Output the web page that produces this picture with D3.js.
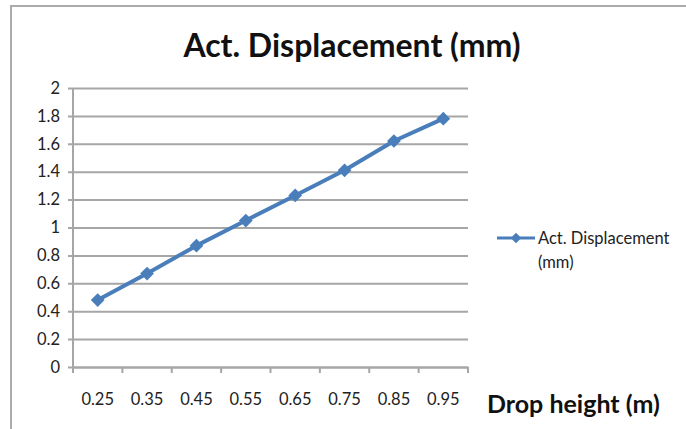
<!DOCTYPE html>
<html>
<head>
<meta charset="utf-8">
<script src="https://cdn.jsdelivr.net/npm/d3@7"></script>
<style>
  html, body { margin: 0; padding: 0; background: #fff; }
  svg { display: block; }
  text { font-family: Lato, "Open Sans", "Liberation Sans", sans-serif; }
</style>
</head>
<body>
<svg id="chart" width="686" height="429"></svg>
<script>
// Drop height categories (m) and measured displacement (mm)
const dropHeights = ["0.25", "0.35", "0.45", "0.55", "0.65", "0.75", "0.85", "0.95"];
const displacement = [0.48, 0.67, 0.87, 1.05, 1.23, 1.41, 1.62, 1.78];
const yTicks = [0, 0.2, 0.4, 0.6, 0.8, 1, 1.2, 1.4, 1.6, 1.8, 2];
const seriesName = "Act. Displacement (mm)";
const chartTitle = "Act. Displacement (mm)";
const xTitle = "Drop height (m)";

const svg = d3.select("#chart");
const W = 686, H = 429;
const plot = { left: 73, right: 468, top: 88, bottom: 367 };
const blue = "#4A7EBB";
const grid = "#A6A6A6";
const labelSize = 16.5;

// Outer chart frame
svg.append("rect")
  .attr("x", 11).attr("y", 6)
  .attr("width", W + 10).attr("height", H + 10)
  .attr("fill", "#fff")
  .attr("stroke", "#ABABAB").attr("stroke-width", 2);

const x = d3.scaleBand().domain(dropHeights).range([plot.left, plot.right]);
const y = d3.scaleLinear().domain([0, 2]).range([plot.bottom, plot.top]);

// Horizontal gridlines with left tick stubs
const yAxis = d3.axisLeft(y).tickValues(yTicks).tickSize(plot.right - plot.left + 5)
  .tickFormat(d => d3.format("~g")(d)).tickPadding(8);
const gy = svg.append("g").attr("transform", `translate(${plot.right},0)`).call(yAxis);
gy.select(".domain").remove();
gy.selectAll(".tick line").attr("stroke", grid).attr("stroke-width", 2);
gy.selectAll(".tick text").attr("fill", "#222").attr("font-size", labelSize);

// Vertical value axis line
svg.append("line")
  .attr("x1", plot.left).attr("x2", plot.left)
  .attr("y1", plot.top).attr("y2", plot.bottom + 5)
  .attr("stroke", grid).attr("stroke-width", 2);

// Category axis: tick marks sit between categories
const xAxis = d3.axisBottom(x).tickSize(0).tickPadding(26);
const gx = svg.append("g").attr("transform", `translate(0,${plot.bottom})`).call(xAxis);
gx.select(".domain").attr("stroke", grid).attr("stroke-width", 2);
gx.selectAll(".tick text").attr("fill", "#222").attr("font-size", labelSize);
const boundaries = dropHeights.map(d => x(d)).concat([x(dropHeights[dropHeights.length - 1]) + x.bandwidth()]);
svg.append("g").selectAll("line").data(boundaries).join("line")
  .attr("x1", d => d).attr("x2", d => d)
  .attr("y1", plot.bottom).attr("y2", plot.bottom + 6)
  .attr("stroke", grid).attr("stroke-width", 2);

// Data series
const cx = d => x(d) + x.bandwidth() / 2;
const line = d3.line().x((d, i) => cx(dropHeights[i])).y(d => y(d));
svg.append("path").datum(displacement)
  .attr("d", line).attr("fill", "none")
  .attr("stroke", blue).attr("stroke-width", 4).attr("stroke-linejoin", "round");

const diamond = d3.symbol().type(d3.symbolDiamond2).size(120);
svg.append("g").selectAll("path").data(displacement).join("path")
  .attr("d", diamond)
  .attr("transform", (d, i) => `translate(${cx(dropHeights[i])},${y(d)})`)
  .attr("fill", blue);

// Chart title
svg.append("text")
  .attr("x", 352).attr("y", 57)
  .attr("text-anchor", "middle")
  .attr("font-size", 32).attr("font-weight", "bold").attr("fill", "#111")
  .text(chartTitle);

// Category axis title
svg.append("text")
  .attr("x", 487).attr("y", 413)
  .attr("font-size", 25).attr("font-weight", "bold").attr("fill", "#111")
  .text(xTitle);

// Legend
const lg = svg.append("g").attr("transform", "translate(497,238)");
lg.append("line").attr("x1", 0).attr("x2", 38).attr("stroke", blue).attr("stroke-width", 3);
lg.append("path").attr("d", d3.symbol().type(d3.symbolDiamond2).size(70)).attr("transform", "translate(19,0)").attr("fill", blue);
const words = seriesName.split(" ");
const lt = lg.append("text").attr("font-size", labelSize).attr("fill", "#222");
lt.append("tspan").attr("x", 41).attr("y", 6).text(words.slice(0, 2).join(" "));
lt.append("tspan").attr("x", 41).attr("y", 30).text(words.slice(2).join(" "));
</script>
</body>
</html>
